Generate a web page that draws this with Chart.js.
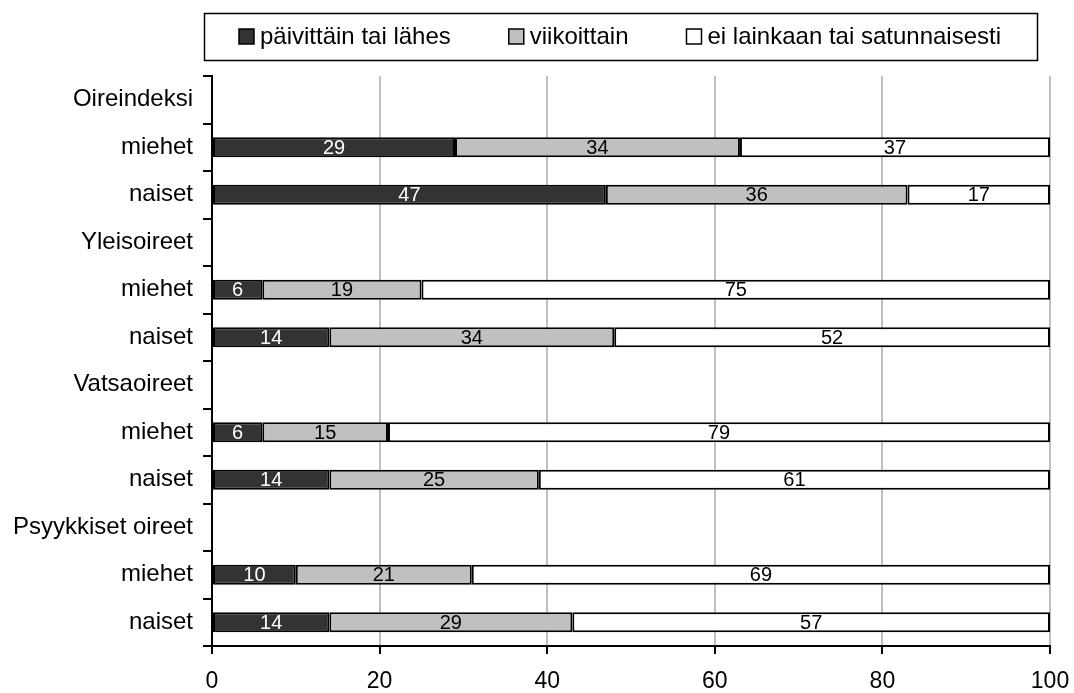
<!DOCTYPE html>
<html>
<head>
<meta charset="utf-8">
<script src="https://cdn.jsdelivr.net/npm/chart.js@4.4.1/dist/chart.umd.min.js"></script>
<style>
  html, body { margin: 0; padding: 0; background: #fff; }
  #wrap { width: 1074px; height: 693px; }
</style>
</head>
<body>
<div id="wrap"><canvas id="myChart"></canvas></div>
<script>
// Rows of the chart: group headers have no bars
const categories = [
  'Oireindeksi', 'miehet', 'naiset',
  'Yleisoireet', 'miehet', 'naiset',
  'Vatsaoireet', 'miehet', 'naiset',
  'Psyykkiset oireet', 'miehet', 'naiset'
];
const seriesNames = ['päivittäin tai lähes', 'viikoittain', 'ei lainkaan tai satunnaisesti'];
const daily  = [null, 29, 47, null, 6, 14, null, 6, 14, null, 10, 14];
const weekly = [null, 34, 36, null, 19, 34, null, 15, 25, null, 21, 29];
const never  = [null, 37, 17, null, 75, 52, null, 79, 61, null, 69, 57];
const barColors = ['#333333', '#c0c0c0', '#ffffff'];
const labelColors = ['#ffffff', '#000000', '#000000'];

const FONT = '"Liberation Sans", Arial, sans-serif';

// values written in the middle of each segment
const barLabels = {
  id: 'barLabels',
  afterDatasetsDraw(chart) {
    const ctx = chart.ctx;
    ctx.save();
    ctx.font = '20px ' + FONT;
    ctx.textAlign = 'center';
    ctx.textBaseline = 'middle';
    chart.data.datasets.forEach((ds, i) => {
      chart.getDatasetMeta(i).data.forEach((bar, j) => {
        const v = ds.data[j];
        if (v == null) return;
        const p = bar.getProps(['x', 'y', 'base'], true);
        ctx.fillStyle = labelColors[i];
        ctx.fillText(String(v), (p.x + p.base) / 2, p.y + 1);
      });
    });
    ctx.restore();
  }
};

// boxed legend above the plot
const boxLegend = {
  id: 'boxLegend',
  afterDraw(chart) {
    const ctx = chart.ctx;
    ctx.save();
    ctx.lineWidth = 1.5;
    ctx.strokeStyle = '#000';
    ctx.strokeRect(204.5, 13.5, 833, 47);

    ctx.font = '24px ' + FONT;
    ctx.textBaseline = 'middle';
    ctx.textAlign = 'left';
    const box = 15, gap = 6, space = 58;
    const items = chart.data.datasets.map(ds => ({
      text: ds.label, color: ds.backgroundColor, w: ctx.measureText(ds.label).width
    }));
    let total = items.reduce((s, it) => s + box + gap + it.w, 0) + space * (items.length - 1);
    let x = 620 - total / 2;
    const cy = 36.5;
    items.forEach(it => {
      ctx.fillStyle = it.color;
      ctx.fillRect(x, cy - box / 2, box, box);
      ctx.lineWidth = 1.5;
      ctx.strokeRect(x, cy - box / 2, box, box);
      ctx.fillStyle = '#000';
      ctx.fillText(it.text, x + box + gap, cy + 1);
      x += box + gap + it.w + space;
    });
    ctx.restore();
  }
};

new Chart('myChart', {
  type: 'bar',
  data: {
    labels: categories,
    datasets: [daily, weekly, never].map((d, i) => ({
      label: seriesNames[i],
      data: d,
      backgroundColor: barColors[i],
      borderColor: '#000',
      borderWidth: 2,
      borderSkipped: false,
      barPercentage: 0.42,
      categoryPercentage: 1
    }))
  },
  options: {
    indexAxis: 'y',
    responsive: true,
    maintainAspectRatio: false,
    animation: false,
    layout: { padding: { top: 76, right: 24, left: 0, bottom: 0 } },
    plugins: {
      legend: { display: false },
      tooltip: { enabled: false }
    },
    scales: {
      x: {
        stacked: true,
        min: 0,
        max: 100,
        ticks: { stepSize: 20, color: '#000', font: { family: FONT, size: 23 }, padding: 14 },
        grid: { color: '#c0c0c0', tickColor: '#000', lineWidth: 2, tickLength: 8 },
        border: { color: '#000', width: 2 },
        afterFit: s => { s.height = 47; s.paddingRight = 0; s.paddingLeft = 0; }
      },
      y: {
        stacked: true,
        offset: true,
        ticks: { color: '#000', font: { family: FONT, size: 24 }, padding: 10, autoSkip: false },
        grid: { offset: true, drawOnChartArea: false, color: '#000', lineWidth: 2, tickLength: 9 },
        border: { color: '#000', width: 2 },
        afterFit: s => { s.width = 212; }
      }
    }
  },
  plugins: [barLabels, boxLegend]
});
</script>
</body>
</html>
